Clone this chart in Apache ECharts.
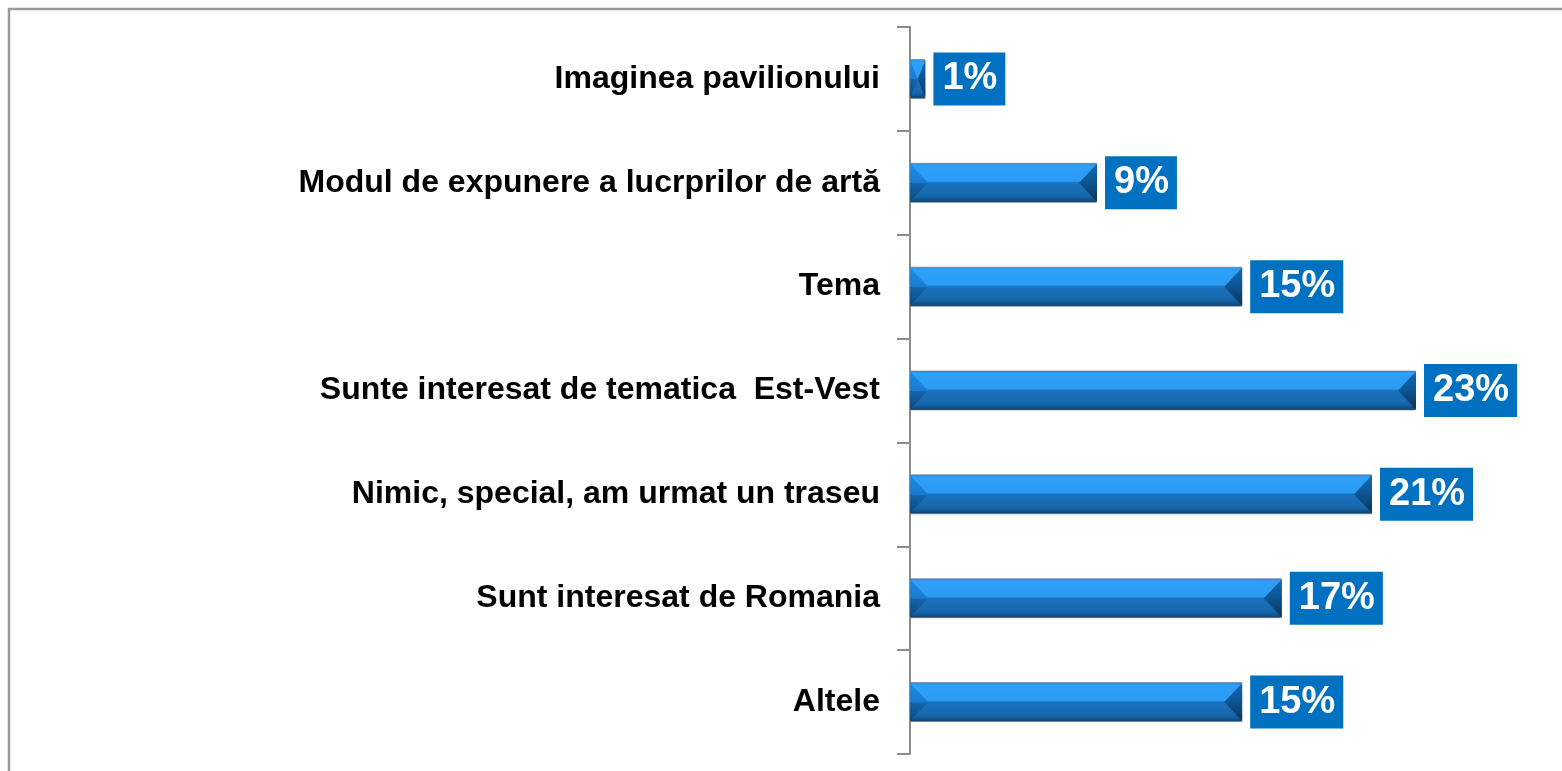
<!DOCTYPE html>
<html>
<head>
<meta charset="utf-8">
<script src="https://cdn.jsdelivr.net/npm/echarts@6/dist/echarts.min.js"></script>
<style>
  html, body { margin: 0; padding: 0; background: #fff; }
  #chart { width: 1562px; height: 771px; }
</style>
</head>
<body>
<div id="chart"></div>
<script>
// categorii (de sus in jos)
var categories = [
  "Imaginea pavilionului",
  "Modul de expunere a lucrprilor de artă",
  "Tema",
  "Sunte interesat de tematica  Est-Vest",
  "Nimic, special, am urmat un traseu",
  "Sunt interesat de Romania",
  "Altele"
];
// valori citite din lungimea barelor (%)
var values = [0.7, 8.5, 15.1, 23, 21, 16.9, 15.1];

var xMax = 28;
var pxPerUnit = 22;
var barH = 40;

var myChart = echarts.init(document.getElementById("chart"));

// fatetele bevel de la capetele barelor
function renderBevel(params, api) {
  var idx = api.value(1);
  var p0 = api.coord([0, idx]);
  var p1 = api.coord([api.value(0), idx]);
  var x0 = p0[0], x1 = p1[0], yc = p0[1];
  var y0 = yc - barH / 2 + 1, y1 = yc + barH / 2 - 1;
  var d = Math.min(18, (x1 - x0) / 2);
  return {
    type: "group",
    children: [
      {
        type: "polygon",
        shape: { points: [[x0, y0], [x0 + d, yc], [x0, y1]] },
        style: {
          fill: new echarts.graphic.LinearGradient(0, 0, 0, 1, [
            { offset: 0, color: "#1f8ae4" },
            { offset: 0.5, color: "#1a7bd0" },
            { offset: 0.52, color: "#1565a8" },
            { offset: 1, color: "#0e4a7e" }
          ])
        }
      },
      {
        type: "polygon",
        shape: { points: [[x1, y0], [x1 - d, yc], [x1, y1]] },
        style: {
          fill: new echarts.graphic.LinearGradient(0, 0, 0, 1, [
            { offset: 0, color: "#1269b0" },
            { offset: 0.5, color: "#0d5492" },
            { offset: 1, color: "#083456" }
          ])
        }
      }
    ]
  };
}

var option = {
  animation: false,
  graphic: [
    {
      type: "rect",
      shape: { x: 9, y: 9, width: 1600, height: 800 },
      style: { fill: "none", stroke: "#9a9a9a", lineWidth: 2.5 },
      silent: true
    }
  ],
  grid: {
    left: 910,
    top: 27,
    bottom: 17,
    width: xMax * pxPerUnit
  },
  xAxis: {
    type: "value",
    min: 0,
    max: xMax,
    show: false
  },
  yAxis: {
    type: "category",
    inverse: true,
    data: categories,
    axisLine: { show: true, lineStyle: { color: "#8c8c8c", width: 2 } },
    axisTick: { show: true, inside: false, length: 13, lineStyle: { color: "#8c8c8c", width: 2 } },
    axisLabel: {
      margin: 30,
      color: "#000",
      fontSize: 32,
      fontWeight: "bold",
      fontFamily: "Liberation Sans, Arial, sans-serif"
    }
  },
  series: [
    {
      type: "bar",
      data: values,
      barWidth: barH,
      itemStyle: {
        borderColor: "rgba(110,110,110,0.55)",
        borderWidth: 1,
        color: new echarts.graphic.LinearGradient(0, 0, 0, 1, [
          { offset: 0, color: "#1e8ce4" },
          { offset: 0.08, color: "#2fa0f8" },
          { offset: 0.46, color: "#2b9cf5" },
          { offset: 0.5, color: "#1a72bd" },
          { offset: 0.84, color: "#1667ab" },
          { offset: 1, color: "#0b3f6c" }
        ])
      },
      label: {
        show: true,
        position: "right",
        distance: 8,
        formatter: function (p) { return Math.round(p.value) + "%"; },
        backgroundColor: "#0070C0",
        color: "#fff",
        fontSize: 38,
        fontWeight: "bold",
        fontFamily: "Liberation Sans, Arial, sans-serif",
        lineHeight: 39,
        padding: [7, 8, 7, 9]
      }
    },
    {
      type: "custom",
      silent: true,
      z: 3,
      renderItem: renderBevel,
      encode: { x: 0, y: 1 },
      data: values.map(function (v, i) { return [v, i]; })
    }
  ]
};

myChart.setOption(option);
</script>
</body>
</html>
